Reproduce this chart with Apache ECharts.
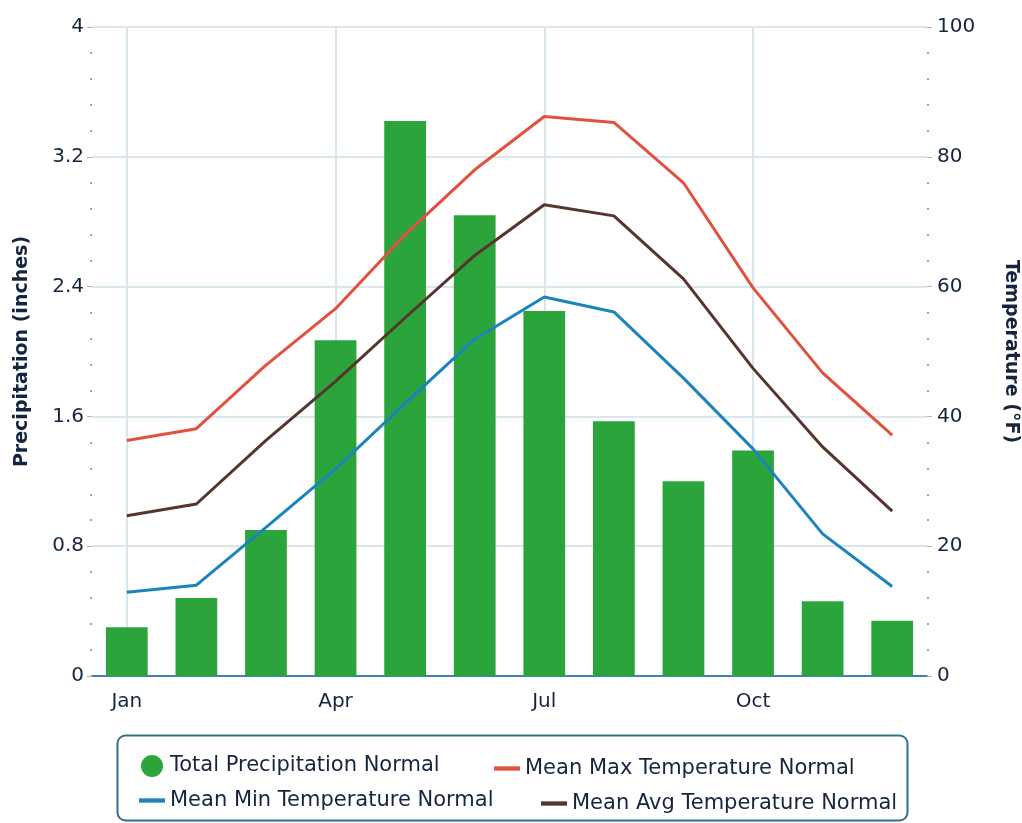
<!DOCTYPE html>
<html>
<head>
<meta charset="utf-8">
<script src="https://cdn.jsdelivr.net/npm/echarts@6/dist/echarts.min.js"></script>
<style>
html,body{margin:0;padding:0;background:#fff;}
#chart{width:1022px;height:823px;}
</style>
</head>
<body>
<div id="chart"></div>
<script>
const months = ['Jan','Feb','Mar','Apr','May','Jun','Jul','Aug','Sep','Oct','Nov','Dec'];
const precipitation = [0.30, 0.48, 0.90, 2.07, 3.42, 2.84, 2.25, 1.57, 1.20, 1.39, 0.46, 0.34];
const maxTemp = [36.3, 38.1, 47.9, 56.6, 68.0, 78.0, 86.2, 85.3, 76.0, 59.8, 46.7, 37.1];
const avgTemp = [24.7, 26.5, 36.3, 45.4, 55.2, 64.8, 72.6, 70.9, 61.2, 47.4, 35.3, 25.4];
const minTemp = [12.9, 14.0, 22.9, 31.9, 42.0, 51.9, 58.4, 56.1, 45.9, 35.0, 21.9, 13.8];
const seriesNames = ['Total Precipitation Normal','Mean Max Temperature Normal','Mean Min Temperature Normal','Mean Avg Temperature Normal'];

const FONT = 'DejaVu Sans';
const TXT = '#16253f';
const GRID = '#d9e6ee';
const DASH = 'path://M0,0H24V4H0Z';

function legendItem(name, icon, left, top) {
  return {
    data: [{name: name, icon: icon}],
    left: left, top: top, padding: 0,
    itemWidth: 26, itemHeight: 22, itemGap: 0,
    textStyle: {fontFamily: FONT, fontSize: 21, color: TXT}
  };
}

const chart = echarts.init(document.getElementById('chart'));
chart.setOption({
  animation: false,
  textStyle: {fontFamily: FONT, color: TXT},
  grid: {left: 92, right: 95, top: 27, bottom: 147, outerBoundsMode: 'none', containLabel: false},
  graphic: [{
    type: 'rect', left: 115, top: 733, silent: true, z: -1,
    shape: {width: 790, height: 85, r: 8},
    style: {fill: 'none', stroke: '#2e6f8e', lineWidth: 2}
  }],
  legend: [
    legendItem(seriesNames[0], 'circle', 141, 755),
    legendItem(seriesNames[1], DASH, 494, 758),
    legendItem(seriesNames[2], DASH, 139, 790),
    legendItem(seriesNames[3], DASH, 541, 793)
  ],
  xAxis: {
    type: 'category', data: months, boundaryGap: true,
    axisLine: {lineStyle: {color: '#3a86b0', width: 2}},
    axisTick: {show: false},
    axisLabel: {interval: 2, margin: 16, fontSize: 20, color: TXT, fontFamily: FONT},
    splitLine: {show: true, interval: 2, alignWithLabel: true, lineStyle: {color: GRID, width: 2}}
  },
  yAxis: [
    {
      type: 'value', min: 0, max: 4, interval: 0.8,
      name: 'Precipitation (inches)', nameLocation: 'middle', nameGap: 60,
      nameTextStyle: {fontFamily: FONT, fontSize: 19, fontWeight: 'bold', color: TXT},
      axisLine: {show: false},
      axisTick: {show: true, length: 5, lineStyle: {color: '#aab4bc'}},
      minorTick: {show: true, splitNumber: 5, length: 2, lineStyle: {color: '#9aa4ac', width: 2}},
      axisLabel: {margin: 8, fontSize: 20, color: TXT, fontFamily: FONT},
      splitLine: {show: true, lineStyle: {color: GRID, width: 2}}
    },
    {
      type: 'value', min: 0, max: 100, interval: 20,
      name: 'Temperature (°F)', nameLocation: 'middle', nameGap: 74, nameRotate: -90,
      nameTextStyle: {fontFamily: FONT, fontSize: 19, fontWeight: 'bold', color: TXT},
      axisLine: {show: false},
      axisTick: {show: true, length: 5, lineStyle: {color: '#aab4bc'}},
      minorTick: {show: true, splitNumber: 5, length: 2, lineStyle: {color: '#9aa4ac', width: 2}},
      axisLabel: {margin: 10, fontSize: 20, color: TXT, fontFamily: FONT},
      splitLine: {show: false}
    }
  ],
  series: [
    {name: seriesNames[0], type: 'bar', data: precipitation, yAxisIndex: 0, barWidth: '60%',
     itemStyle: {color: '#2ba43b'}},
    {name: seriesNames[1], type: 'line', data: maxTemp, yAxisIndex: 1, symbol: 'none',
     lineStyle: {color: '#e2503e', width: 3}, itemStyle: {color: '#e2503e'}},
    {name: seriesNames[2], type: 'line', data: minTemp, yAxisIndex: 1, symbol: 'none',
     lineStyle: {color: '#1b84bd', width: 3}, itemStyle: {color: '#1b84bd'}},
    {name: seriesNames[3], type: 'line', data: avgTemp, yAxisIndex: 1, symbol: 'none',
     lineStyle: {color: '#55352c', width: 3}, itemStyle: {color: '#55352c'}}
  ]
});
</script>
</body>
</html>
